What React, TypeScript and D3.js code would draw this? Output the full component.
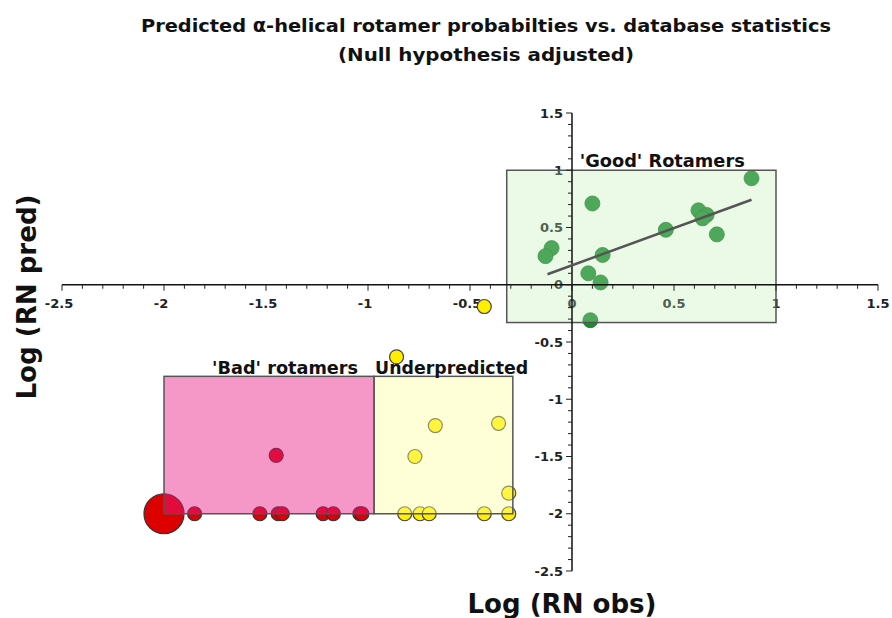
import React from "react";
import * as d3 from "d3";

// ---- data ----
const goodX = [0.88, 0.10, 0.62, 0.66, 0.64, 0.46, 0.71, -0.10, -0.13, 0.15, 0.08, 0.14, 0.09];
const goodY = [0.93, 0.71, 0.65, 0.61, 0.58, 0.48, 0.44, 0.32, 0.25, 0.26, 0.10, 0.02, -0.31];

const badX = [-1.45, -1.85, -1.53, -1.44, -1.42, -1.22, -1.17, -1.04, -1.03];
const badY = [-1.49, -2, -2, -2, -2, -2, -2, -2, -2];

const bigX = [-2];
const bigY = [-2];

const underX = [-0.43, -0.86, -0.67, -0.36, -0.77, -0.31, -0.82, -0.745, -0.70, -0.43, -0.31];
const underY = [-0.19, -0.63, -1.23, -1.21, -1.50, -1.82, -2, -2, -2, -2, -2];

// regions: [x0, x1, y0, y1]
const goodBox = [-0.32, 1, -0.33, 1];
const badBox = [-2, -0.97, -2, -0.8];
const underBox = [-0.97, -0.29, -2, -0.8];

const trendSlope = 0.65;
const trendIntercept = 0.17;
const trendRange = [-0.12, 0.88];

const majorTicks = [-2.5, -2, -1.5, -1, -0.5, 0, 0.5, 1, 1.5];
const tickLabels = ["-2.5", "-2", "-1.5", "-1", "-0.5", "0", "0.5", "1", "1.5"];

const titleLines = [
  "Predicted \u03b1-helical rotamer probabilties vs. database statistics",
  "(Null hypothesis adjusted)",
];

const FONT = "'DejaVu Sans', Verdana, sans-serif";

export default function App() {
  const W = 892, H = 618;
  const x = d3.scaleLinear().domain([-2.5, 1.5]).range([62, 878]);
  const y = d3.scaleLinear().domain([-2.5, 1.5]).range([571, 113]);
  const minor = d3.range(-25, 16).map((i) => i / 10);

  const box = (b: number[], fill: string, op: number) => (
    <rect
      x={x(b[0])}
      y={y(b[3])}
      width={x(b[1]) - x(b[0])}
      height={y(b[2]) - y(b[3])}
      fill={fill}
      fillOpacity={op}
      stroke="#555"
      strokeWidth={1.5}
    />
  );

  const line = d3.line<number>().x((v) => x(v)).y((v) => y(trendSlope * v + trendIntercept));

  return (
    <svg width={W} height={H} style={{ position: "absolute", left: 0, top: 0, background: "#fff" }} fontFamily={FONT}>
      <rect width={W} height={H} fill="#fff" />
      {/* title */}
      <text x={486} y={32} textAnchor="middle" fontSize={18.5} fontWeight="bold" fill="#111" textLength={690} lengthAdjust="spacingAndGlyphs">
        {titleLines[0]}
      </text>
      <text x={486} y={61} textAnchor="middle" fontSize={18.5} fontWeight="bold" fill="#111" textLength={296} lengthAdjust="spacingAndGlyphs">
        {titleLines[1]}
      </text>

      {/* tick labels */}
      {majorTicks.map((t, i) => (
        <text key={"xl" + i} x={x(t) - (t < 0 ? 3 : 0)} y={308} textAnchor="middle" fontSize={13} fontWeight="bold" fill="#222">
          {tickLabels[i]}
        </text>
      ))}
      {majorTicks.map((t, i) => (
        <text key={"yl" + i} x={x(0) - 9} y={y(t) + 4.5} textAnchor="end" fontSize={13} fontWeight="bold" fill="#222">
          {tickLabels[i]}
        </text>
      ))}

      {/* points */}
      {bigX.map((v, i) => (
        <circle key={"big" + i} cx={x(v)} cy={y(bigY[i])} r={20} fill="#dd0000" stroke="#333" strokeWidth={1.2} />
      ))}
      {badX.map((v, i) => (
        <circle key={"b" + i} cx={x(v)} cy={y(badY[i])} r={7} fill="#dd0008" stroke="#333" strokeWidth={1.2} />
      ))}
      {underX.map((v, i) => (
        <circle key={"u" + i} cx={x(v)} cy={y(underY[i])} r={7} fill="#ffee00" stroke="#444" strokeWidth={1.2} />
      ))}
      {goodX.map((v, i) => (
        <circle key={"g" + i} cx={x(v)} cy={y(goodY[i])} r={7.5} fill="#1f8a34" stroke="#1a6a28" strokeWidth={0.8} />
      ))}

      {/* boxes */}
      {box(goodBox, "#b8eeae", 0.3)}
      {box(badBox, "#e91b85", 0.45)}
      {box(underBox, "#ffff9a", 0.4)}

      {/* axes */}
      <line x1={x(-2.5)} x2={x(1.5)} y1={y(0)} y2={y(0)} stroke="#111" strokeWidth={1.5} />
      <line x1={x(0)} x2={x(0)} y1={y(-2.5)} y2={y(1.5)} stroke="#111" strokeWidth={1.5} />
      {minor.map((t, i) => {
        const major = Math.abs(t * 2 - Math.round(t * 2)) < 1e-6;
        const len = major ? 6 : 4;
        return (
          <g key={"t" + i}>
            <line x1={x(t)} x2={x(t)} y1={y(0)} y2={y(0) + len} stroke="#222" strokeWidth={1} />
            <line x1={x(0) - len} x2={x(0)} y1={y(t)} y2={y(t)} stroke="#222" strokeWidth={1} />
          </g>
        );
      })}

      {/* trend line */}
      <path d={line(trendRange) || ""} fill="none" stroke="#555" strokeWidth={2.5} />

      {/* region labels */}
      <text x={x(goodBox[0]) + 73} y={y(goodBox[3]) - 3} fontSize={17.5} fontWeight="bold" fill="#111" textLength={165} lengthAdjust="spacingAndGlyphs">
        'Good' Rotamers
      </text>
      <text x={x(badBox[1]) - 16} y={y(badBox[3]) - 2} textAnchor="end" fontSize={17.5} fontWeight="bold" fill="#111" textLength={146} lengthAdjust="spacingAndGlyphs">
        'Bad' rotamers
      </text>
      <text x={x(underBox[0]) + 1} y={y(underBox[3]) - 2} fontSize={17.5} fontWeight="bold" fill="#111" textLength={153} lengthAdjust="spacingAndGlyphs">
        Underpredicted
      </text>

      {/* axis titles */}
      <text x={562} y={613} textAnchor="middle" fontSize={26} fontWeight="bold" fill="#111" textLength={189} lengthAdjust="spacingAndGlyphs">
        Log (RN obs)
      </text>
      <text transform="translate(36,297) rotate(-90)" textAnchor="middle" fontSize={26} fontWeight="bold" fill="#111" textLength={205} lengthAdjust="spacingAndGlyphs">
        Log (RN pred)
      </text>
    </svg>
  );
}
